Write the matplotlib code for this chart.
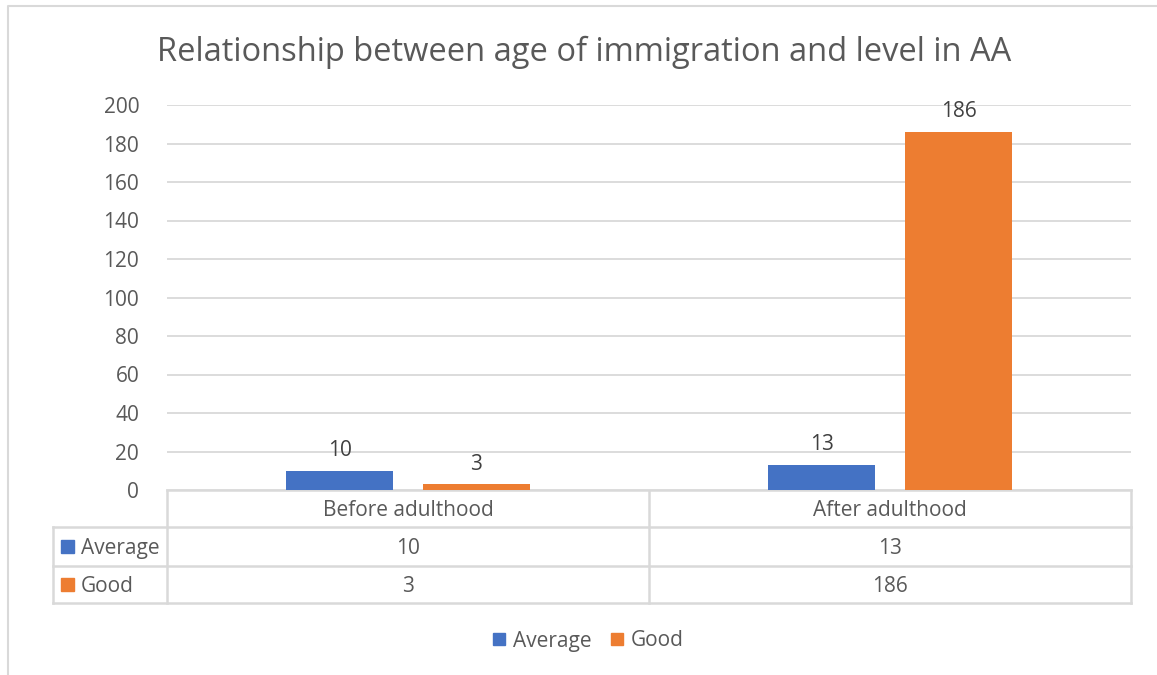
import numpy as np
import matplotlib.pyplot as plt

plt.rcParams["font.family"] = ["Open Sans", "DejaVu Sans"]

categories = ["Before adulthood", "After adulthood"]
series_names = ["Average", "Good"]
average = [10, 13]
good = [3, 186]
colors = ["#4472C4", "#ED7D31"]
title = "Relationship between age of immigration and level in AA"

W, H = 1157, 675
fig = plt.figure(figsize=(W / 100, H / 100), dpi=100)

# plot area in pixels
px_l, px_r, px_t, px_b = 167, 1131, 105, 490
ax = fig.add_axes([px_l / W, 1 - px_b / H, (px_r - px_l) / W, (px_b - px_t) / H])

grid_c = "#D9D9D9"
text_c = "#595959"
fs = 15
x = np.arange(len(categories))
bw = 0.222
gap = 0.062
for i, (name, vals) in enumerate(zip(series_names, [average, good])):
    pos = x + (i - 0.5) * (bw + gap)
    bars = ax.bar(pos, vals, width=bw, color=colors[i], zorder=3)
    for b, v in zip(bars, vals):
        ax.annotate(str(v), (b.get_x() + b.get_width() / 2, v), xytext=(0, 7),
                    textcoords="offset points", ha="center", va="bottom",
                    fontsize=fs, color="#404040")

ax.set_xlim(-0.5, len(categories) - 0.5)
ax.set_ylim(0, 200)
ax.set_yticks(np.arange(0, 201, 20))
ax.yaxis.grid(True, color=grid_c, lw=1.3)
ax.set_axisbelow(True)
ax.tick_params(axis="y", length=0, pad=20, labelsize=fs, labelcolor=text_c)
ax.tick_params(axis="x", length=0, labelbottom=False)
for s in ax.spines.values():
    s.set_visible(False)

# overlay in pixel coordinates for table, legend and frame
ov = fig.add_axes([0, 0, 1, 1], zorder=-1)
ov.set_xlim(0, W)
ov.set_ylim(H, 0)
ov.axis("off")

lw = 1.8
row_y = [490, 527, 566, 603]
lab_l = 53
col_x = [px_l, (px_l + px_r) / 2, px_r]
ov.plot([px_l, px_r], [row_y[0], row_y[0]], color=grid_c, lw=lw)
for yy in row_y[1:]:
    ov.plot([lab_l, px_r], [yy, yy], color=grid_c, lw=lw)
ov.plot([lab_l, lab_l], [row_y[1], row_y[3]], color=grid_c, lw=lw)
for xx in col_x:
    ov.plot([xx, xx], [row_y[0], row_y[3]], color=grid_c, lw=lw)

dy = 2
for j, cat in enumerate(categories):
    cx = (col_x[j] + col_x[j + 1]) / 2
    ov.text(cx, (row_y[0] + row_y[1]) / 2 + dy, cat, ha="center", va="center",
            fontsize=fs, color=text_c)
    for i, vals in enumerate([average, good]):
        ov.text(cx, (row_y[i + 1] + row_y[i + 2]) / 2 + dy, str(vals[j]),
                ha="center", va="center", fontsize=fs, color=text_c)

for i, name in enumerate(series_names):
    yc = (row_y[i + 1] + row_y[i + 2]) / 2
    ov.add_patch(plt.Rectangle((61, yc - 6.5), 13, 13, color=colors[i]))
    ov.text(81, yc + dy, name, ha="left", va="center", fontsize=fs, color=text_c)

# legend
leg_y = 639
leg_items = [(493, 513), (611, 631)]
for (sx, tx), name, c in zip(leg_items, series_names, colors):
    ov.add_patch(plt.Rectangle((sx, leg_y - 6), 12, 12, color=c))
    ov.text(tx, leg_y + dy, name, ha="left", va="center", fontsize=fs, color=text_c)

# chart frame
ov.plot([8, 8, W + 5], [H + 5, 6, 6], color=grid_c, lw=1.5)

fig.text(584 / W, 1 - 52 / H, title, ha="center", va="center", fontsize=23.5,
         color=text_c)

fig.savefig("out.png", dpi=100)
